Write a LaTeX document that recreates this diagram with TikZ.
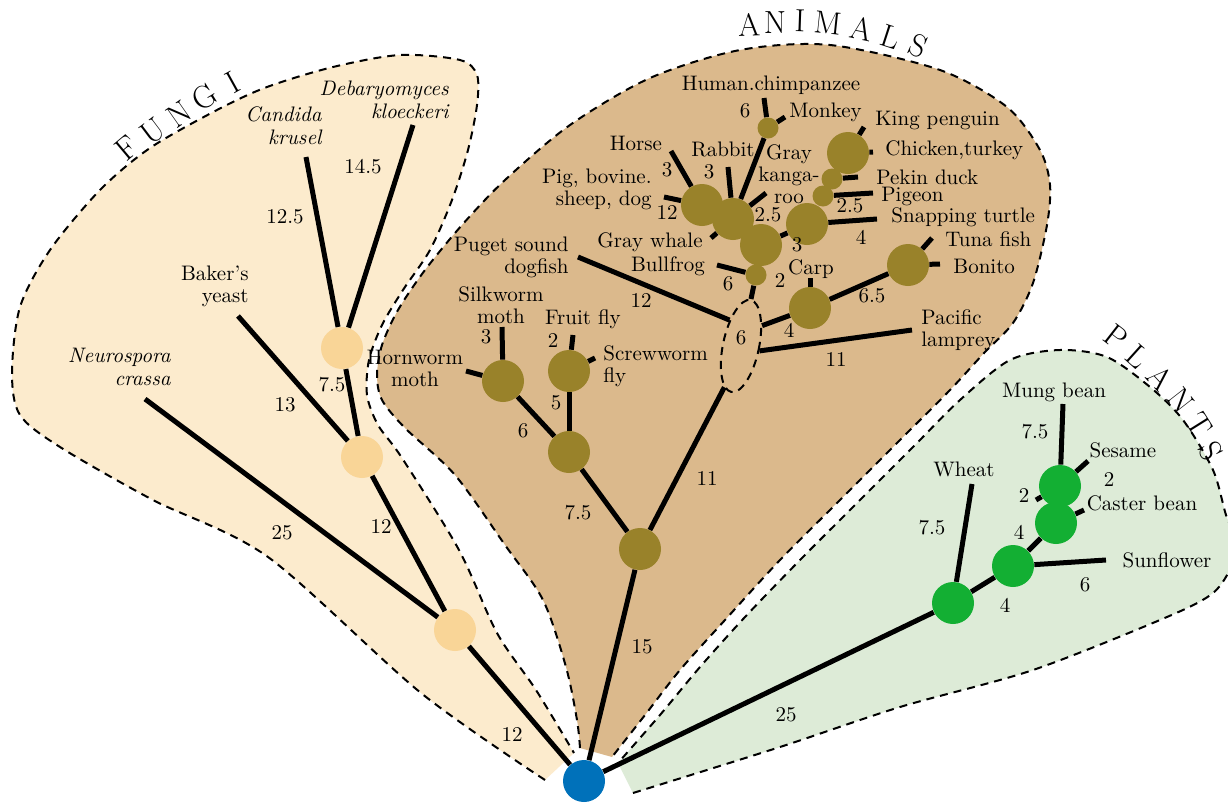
\documentclass[tikz,border=0pt]{standalone}
\usepackage{xcolor}
\definecolor{fungibg}{HTML}{FCEBCD}
\definecolor{animalbg}{HTML}{DBB98C}
\definecolor{plantbg}{HTML}{DDEBD7}
\definecolor{funginode}{HTML}{F9D597}
\definecolor{animalnode}{HTML}{99822A}
\definecolor{plantnode}{HTML}{13AF33}
\definecolor{rootnode}{HTML}{0071BA}
\usepackage{tikz}
\usetikzlibrary{shapes.geometric}

\begin{document}
\begin{tikzpicture}[x=0.5pt, y=-0.5pt,
    edge/.style={line width=2.5pt},
    region/.style={line width=1pt, dash pattern=on 4pt off 3pt},
    bignode/.style={circle, inner sep=0pt, minimum size=21pt},
    smallnode/.style={circle, inner sep=0pt, minimum size=10.5pt},
    fnode/.style={bignode, fill=funginode},
    anode/.style={bignode, fill=animalnode},
    asmall/.style={smallnode, fill=animalnode},
    pnode/.style={bignode, fill=plantnode},
    lbl/.style={font=\fontsize{10.5}{11}\selectfont, inner sep=0pt, align=center},
    ital/.style={lbl, font=\fontsize{10.5}{11.5}\selectfont\itshape},
    num/.style={font=\fontsize{10.5}{11}\selectfont, inner sep=0pt},
    grp/.style={font=\fontsize{16}{16}\selectfont, inner sep=0pt}]
  \useasboundingbox (0,0) rectangle (1228,804);

  % the three kingdoms
  \filldraw[fill=fungibg, region] plot[smooth] coordinates {
    (545,780) (421,693) (268,557) (153,500) (60,447) (20,415) (12,373)
    (20,307) (50,250) (100,190) (150,148) (217,110) (267,87) (333,67)
    (400,55) (460,60) (477,75) (477,105) (468,150) (452,200) (430,250)
    (403,290) (382,325) (369,360) (367,395) (378,425) (402,458) (459,550)
    (497,633) (536,690) (574,753)};
  \filldraw[fill=animalbg, region] plot[smooth] coordinates {
    (580,748) (577,720) (566,667) (543,600) (505,545) (455,475) (405,428)
    (382,400) (377,375) (382,345) (398,310) (425,270) (462,225) (505,180)
    (570,125) (650,78) (740,50) (830,45) (940,70) (1007,107) (1040,150)
    (1050,185) (1047,225) (1033,283) (1013,323) (985,352) (950,390)
    (900,440) (840,500) (780,560) (725,620) (680,670) (645,715) (612,757)};
  \filldraw[fill=plantbg, region] plot[smooth] coordinates {
    (633,793) (780,747) (900,707) (1033,670) (1167,617) (1213,593)
    (1232,565) (1236,540) (1226,515) (1213,470) (1183,420) (1150,387)
    (1107,357) (1060,350) (1010,360) (960,400) (915,445) (860,500)
    (800,560) (745,617) (700,667) (660,715) (618,763)};

  % group names
  \foreach \x/\y/\r/\c [count=\i] in {127/148/40/F, 153/131/37/U,
      179/114/35/N, 205/97/32/G, 233/82/29/I}
    \node[grp, rotate=\r] (fungi-\i) at (\x,\y) {\c};
  \foreach \x/\y/\r/\c [count=\i] in {749/25/2/A, 775/23/0/N, 800/21/-2/I,
      828/23/-6/M, 862/29/-12/A, 891/37/-18/L, 918/46/-24/S}
    \node[grp, rotate=\r] (animals-\i) at (\x,\y) {\c};
  \foreach \x/\y/\r/\c [count=\i] in {1116/337/-38/P, 1138/357/-42/L,
      1160/378/-47/A, 1181/401/-52/N, 1199/425/-58/T, 1211/451/-64/S}
    \node[grp, rotate=\r] (plants-\i) at (\x,\y) {\c};

  % nodes
  \node[bignode, fill=rootnode] (root) at (584,781) {};
  \node[fnode] (f1) at (455,630) {};
  \node[fnode] (f2) at (362,457) {};
  \node[fnode] (f3) at (342,348) {};

  \node[anode] (a0) at (640,549) {};
  \node[anode] (a1) at (569,452) {};
  \node[anode] (hw) at (503,381) {};
  \node[anode] (ff) at (569,371) {};
  \node[draw, region, ellipse, inner sep=0pt, minimum width=18pt,
    minimum height=47pt, rotate=-12] (vert) at (741,346) {};
  \node[anode] (carpnode) at (810,308) {};
  \node[anode] (tuna) at (908,265) {};
  \node[asmall] (frog) at (756,275) {};
  \node[anode] (pig) at (702,205) {};
  \node[anode] (mam) at (733,219) {};
  \node[anode] (g) at (761,245) {};
  \node[anode] (rep) at (807,224) {};
  \node[asmall] (pigeonnode) at (823,196) {};
  \node[asmall] (pekinnode) at (832,179) {};
  \node[anode] (bird) at (848,153) {};
  \node[asmall] (monkeynode) at (768,128) {};

  \node[pnode] (p1) at (953,603) {};
  \node[pnode] (p2) at (1013,566) {};
  \node[pnode] (p3) at (1056,523) {};
  \node[pnode] (p4) at (1060,486) {};

  % leaf ends
  \coordinate (neuro) at (145,399);
  \coordinate (baker) at (238,316);
  \coordinate (candida) at (306,157);
  \coordinate (debary) at (413,125);
  \coordinate (hornworm) at (466,371);
  \coordinate (silkworm) at (502,327);
  \coordinate (fruitfly) at (573,335);
  \coordinate (screwworm) at (595,358);
  \coordinate (dogfish) at (578,257);
  \coordinate (lamprey) at (912,330);
  \coordinate (carp) at (810,278);
  \coordinate (tunafish) at (932,238);
  \coordinate (bonito) at (940,264);
  \coordinate (bullfrog) at (717,265);
  \coordinate (whale) at (711,238);
  \coordinate (kangaroo) at (766,193);
  \coordinate (rabbit) at (728,167);
  \coordinate (human) at (764,98);
  \coordinate (monkey) at (785,117);
  \coordinate (horse) at (671,151);
  \coordinate (pigleaf) at (664,197);
  \coordinate (turtle) at (877,219);
  \coordinate (pigeon) at (873,193);
  \coordinate (pekin) at (858,177);
  \coordinate (chicken) at (873,152);
  \coordinate (penguin) at (864,127);
  \coordinate (mung) at (1063,404);
  \coordinate (sesame) at (1088,461);
  \coordinate (caster) at (1084,510);
  \coordinate (pstub) at (1036,500);
  \coordinate (sunflower) at (1106,560);
  \coordinate (wheat) at (972,484);

  % fungi
  \draw[edge] (root) -- (f1);
  \draw[edge] (f1) -- (neuro);
  \draw[edge] (f1) -- (f2);
  \draw[edge] (f2) -- (baker);
  \draw[edge] (f2) -- (f3);
  \draw[edge] (f3) -- (candida);
  \draw[edge] (f3) -- (debary);
  % animals
  \draw[edge] (root) -- (a0);
  \draw[edge] (a0) -- (a1);
  \draw[edge] (a1) -- (hw);
  \draw[edge] (hw) -- (hornworm);
  \draw[edge] (hw) -- (silkworm);
  \draw[edge] (a1) -- (ff);
  \draw[edge] (ff) -- (fruitfly);
  \draw[edge] (ff) -- (screwworm);
  \draw[edge] (a0) -- (vert.260);
  \draw[edge] (dogfish) -- (vert.126);
  \draw[edge] (vert.357) -- (lamprey);
  \draw[edge] (vert.56) -- (carpnode);
  \draw[edge] (carpnode) -- (carp);
  \draw[edge] (carpnode) -- (tuna);
  \draw[edge] (tuna) -- (tunafish);
  \draw[edge] (tuna) -- (bonito);
  \draw[edge] (frog) -- (vert.north);
  \draw[edge] (frog) -- (bullfrog);
  \draw[edge] (g) -- (rep);
  \draw[edge] (mam) -- (whale);
  \draw[edge] (mam) -- (kangaroo);
  \draw[edge] (mam) -- (rabbit);
  \draw[edge] (mam) -- (monkeynode);
  \draw[edge] (monkeynode) -- (human);
  \draw[edge] (monkeynode) -- (monkey);
  \draw[edge] (pig) -- (horse);
  \draw[edge] (pig) -- (pigleaf);
  \draw[edge] (rep) -- (turtle);
  \draw[edge] (pigeonnode) -- (pigeon);
  \draw[edge] (pekinnode) -- (pekin);
  \draw[edge] (bird) -- (chicken);
  \draw[edge] (bird) -- (penguin);
  % plants
  \draw[edge] (root) -- (p1);
  \draw[edge] (p1) -- (wheat);
  \draw[edge] (p1) -- (p2);
  \draw[edge] (p2) -- (sunflower);
  \draw[edge] (p2) -- (p3);
  \draw[edge] (p3) -- (caster);
  \draw[edge] (p4) -- (sesame);
  \draw[edge] (p4) -- (mung);
  \draw[edge] (p4) -- (pstub);

  % names of the species
  \node[ital, align=right, anchor=east] (t-neuro) at (171,367) {Neurospora\\crassa};
  \node[lbl, align=right, anchor=east] (t-baker) at (249,286) {Baker's\\yeast};
  \node[ital, align=right, anchor=east] (t-candida) at (322,126) {Candida\\krusel};
  \node[ital, align=right, anchor=east] (t-debary) at (449,100) {Debaryomyces\\kloeckeri};
  \node[lbl] (t-human) at (771,85) {Human.chimpanzee};
  \node[lbl, anchor=west] (t-monkey) at (789,112) {Monkey};
  \node[lbl, anchor=west] (t-penguin) at (875,120) {King penguin};
  \node[lbl, anchor=west] (t-chicken) at (885,150) {Chicken,turkey};
  \node[lbl, anchor=west] (t-pekin) at (876,177) {Pekin duck};
  \node[lbl, anchor=west] (t-pigeon) at (881,196) {Pigeon};
  \node[lbl, anchor=west] (t-turtle) at (891,217) {Snapping turtle};
  \node[lbl, anchor=west] (t-tuna) at (945,239) {Tuna fish};
  \node[lbl, anchor=west] (t-bonito) at (953,266) {Bonito};
  \node[lbl] (t-horse) at (636,143) {Horse};
  \node[lbl] (t-rabbit) at (723,149) {Rabbit};
  \node[lbl] (t-kangaroo) at (789,174) {Gray\\kanga-\\roo};
  \node[lbl, align=right, anchor=east] (t-pig) at (652,189) {Pig, bovine.\\sheep, dog};
  \node[lbl] (t-whale) at (650,242) {Gray whale};
  \node[lbl, align=right, anchor=east] (t-dogfish) at (569,257) {Puget sound\\dogfish};
  \node[lbl] (t-bullfrog) at (668,266) {Bullfrog};
  \node[lbl] (t-carp) at (811,269) {Carp};
  \node[lbl, align=left, anchor=west] (t-lamprey) at (921,330) {Pacific\\lamprey};
  \node[lbl] (t-silkworm) at (501,305) {Silkworm\\moth};
  \node[lbl] (t-fruitfly) at (583,319) {Fruit fly};
  \node[lbl, align=left, anchor=west] (t-screwworm) at (603,366) {Screwworm\\fly};
  \node[lbl] (t-hornworm) at (415,368) {Hornworm\\moth};
  \node[lbl] (t-mung) at (1054,392) {Mung bean};
  \node[lbl] (t-sesame) at (1123,450) {Sesame};
  \node[lbl] (t-caster) at (1142,503) {Caster bean};
  \node[lbl] (t-wheat) at (964,469) {Wheat};
  \node[lbl] (t-sunflower) at (1167,560) {Sunflower};

  % branch lengths
  \node[num] (n1) at (512,734) {12};
  \node[num] (n2) at (282,533) {25};
  \node[num] (n3) at (381,527) {12};
  \node[num] (n4) at (285,405) {13};
  \node[num] (n5) at (332,385) {7.5};
  \node[num] (n6) at (285,217) {12.5};
  \node[num] (n7) at (363,167) {14.5};
  \node[num] (n8) at (745,111) {6};
  \node[num] (n9) at (667,170) {3};
  \node[num] (n10) at (709,172) {3};
  \node[num] (n11) at (768,215) {2.5};
  \node[num] (n12) at (667,213) {12};
  \node[num] (n13) at (797,245) {3};
  \node[num] (n14) at (850,206) {2.5};
  \node[num] (n15) at (861,237) {4};
  \node[num] (n16) at (728,284) {6};
  \node[num] (n17) at (780,281) {2};
  \node[num] (n18) at (872,296) {6.5};
  \node[num] (n19) at (789,330) {4};
  \node[num] (n20) at (836,360) {11};
  \node[num] (n21) at (641,301) {12};
  \node[num] (n22) at (741,338) {6};
  \node[num] (n23) at (486,337) {3};
  \node[num] (n24) at (553,340) {2};
  \node[num] (n25) at (556,403) {5};
  \node[num] (n26) at (523,431) {6};
  \node[num] (n27) at (578,513) {7.5};
  \node[num] (n28) at (707,478) {11};
  \node[num] (n29) at (642,647) {15};
  \node[num] (n30) at (1035,432) {7.5};
  \node[num] (n31) at (1109,479) {2};
  \node[num] (n32) at (1024,495) {2};
  \node[num] (n33) at (1019,532) {4};
  \node[num] (n34) at (932,528) {7.5};
  \node[num] (n35) at (1085,585) {6};
  \node[num] (n36) at (1005,605) {4};
  \node[num] (n37) at (786,715) {25};
\end{tikzpicture}
\end{document}
